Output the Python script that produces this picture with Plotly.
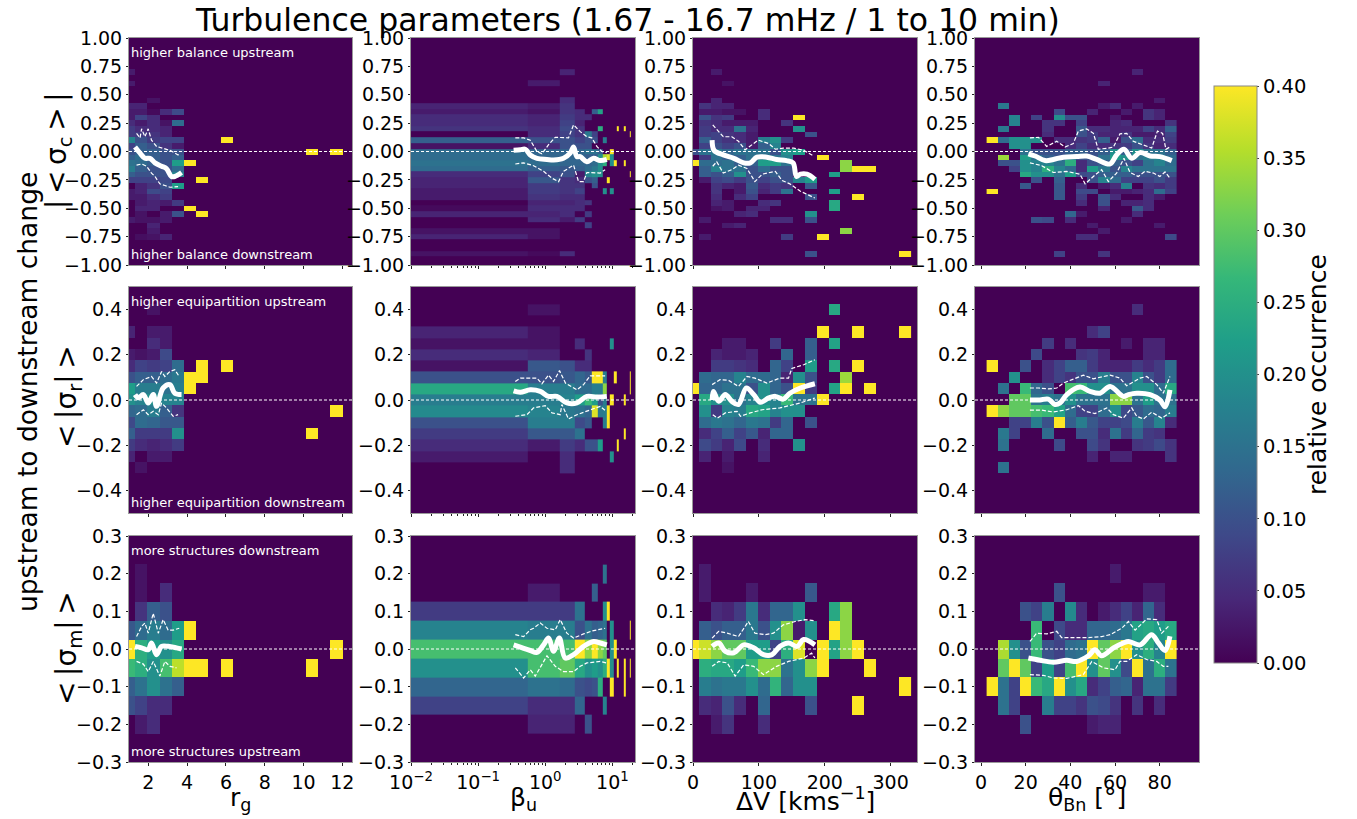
import plotly.graph_objects as go

W, H = 1357, 819
FONT = "DejaVu Sans"
VMAX = 0.40
TITLE = "Turbulence parameters (1.67 - 16.7 mHz / 1 to 10 min)"
YLABEL = "upstream to downstream change"
CBAR_LABEL = "relative occurrence"
ROW_LABELS = ["|\u2009<\u2009σ<sub>c</sub>\u2009>\u2009|", "<\u2009|σ<sub>r</sub>|\u2009>", "<\u2009|σ<sub>m</sub>|\u2009>"]
COL_LABELS = ["r<sub>g</sub>", "β<sub>u</sub>", "ΔV [kms<sup>−1</sup>]", "θ<sub>Bn</sub> [°]"]
NOTES = [("higher balance upstream", "higher balance downstream"),
         ("higher equipartition upstream", "higher equipartition downstream"),
         ("more structures downstream", "more structures upstream")]

# column bin centres of each driver
RG_WIDTH, BETA_WIDTH, DV_WIDTH, TH_WIDTH = 0.63, 1.09, 17.9, 5.0
RG_BINS, BETA_BINS, DV_BINS, TH_BINS = 19, 20, 19, 17
RG_FIRST, BETA_FIRST, DV_FIRST, TH_FIRST = 1.0, 0.0, 0.0, 5.0
Y_STEP = 0.05

# heat maps: {row bin (multiples of 0.05): {column bin: occurrence}}
SC_RG = {14:{0:.03},12:{0:.03},9:{2:.02},8:{0:.04,1:.04},7:{0:.03,1:.03,2:.01,3:.05,4:.09},
 6:{0:.03,1:.08,2:.05},5:{0:.05,1:.03,2:.05,3:.02,4:.14},4:{0:.07,1:.05,2:.05,3:.04},
 3:{0:.07,1:.07,2:.06,3:.04},2:{0:.18,1:.1,2:.07,3:.08,4:.08,8:.4},1:{0:.08,1:.12,2:.1,3:.06,4:.03},
 0:{0:.1,1:.12,2:.12,3:.1,4:.1,15:.4,17:.4},-1:{0:.12,1:.14,2:.12,3:.1,4:.12},
 -2:{0:.15,1:.14,2:.12,3:.1,4:.22,5:.4},-3:{0:.17,1:.12,2:.1,3:.1,4:.14},-4:{0:.12,1:.1,2:.1,3:.1,4:.18},
 -5:{0:.08,1:.08,2:.08,3:.09,6:.4},-6:{1:.04,2:.06,3:.1,4:.22},-7:{0:.03,1:.04,2:.09,3:.08},
 -8:{0:.03,1:.03,2:.05,3:.07},-9:{1:.03,2:.04,3:.03,4:.07},-10:{1:.04,2:.04,5:.4},
 -11:{1:.02,3:.03,4:.1,6:.4},-12:{0:.03,1:.02,2:.02,3:.03},-13:{2:.04},-14:{2:.03},-15:{1:.015,2:.02,3:.04}}
SC_BETA = {14:{2:.04},12:{1:.03},9:{2:.05},8:{0:.04,1:.03,2:.06},7:{0:.03,1:.02,2:.06,3:.05,5:.12,6:.23},
 6:{0:.05,1:.04,2:.07,3:.05,4:.05},5:{0:.05,1:.04,2:.08,3:.04},4:{0:.06,1:.05,2:.09,3:.06,6:.25,11:.4,14:.4},
 3:{1:.05,2:.08,3:.06,4:.16,5:.08,17:.4},2:{0:.12,1:.1,2:.1,3:.08,4:.1,5:.1,7:.17},1:{0:.02,1:.05,2:.1,3:.1,4:.1},
 0:{0:.14,1:.13,2:.13,3:.13,4:.15,5:.15,6:.12,9:.4},-1:{0:.14,1:.13,2:.13,3:.13,4:.12,5:.12,6:.2,7:.35,8:.38,9:.2},
 -2:{0:.15,1:.14,2:.13,3:.13,4:.13,5:.14,6:.2,7:.25,9:.2,10:.4,14:.4},-3:{0:.14,1:.12,2:.11,3:.12,4:.14,5:.16,6:.2},
 -4:{0:.05,1:.08,2:.1,3:.03,4:.18,5:.2,6:.2,17:.4},-5:{0:.04,1:.11,2:.06,3:.05,4:.1,5:.12,8:.4},
 -6:{0:.04,1:.07,2:.06,3:.06,5:.1},-7:{0:.03,1:.07,2:.06,3:.08,7:.2,9:.2},-8:{0:.03,1:.06,2:.05,3:.05},
 -9:{1:.04,2:.04,3:.05,4:.06},-10:{0:.01,1:.05,2:.05,3:.05},-11:{0:.04,1:.04,2:.05,4:.07},-12:{1:.05,2:.03,3:.07},
 -13:{4:.08},-14:{0:.02,1:.02},-15:{0:.04,1:.02},-18:{0:.02,1:.01,2:.05}}
SC_DV = {14:{2:.03},12:{3:.02},9:{2:.04},8:{1:.06,2:.04,3:.04},7:{1:.03,2:.03,3:.02,4:.02,6:.05},
 6:{1:.1,2:.06,3:.07,6:.05,9:.4},5:{1:.06,2:.05,3:.03,4:.03,5:.03,8:.06},4:{1:.07,2:.05,3:.05,4:.15,5:.04,9:.2},
 3:{1:.07,2:.08,3:.06,4:.05,5:.03,10:.1},2:{1:.12,2:.08,3:.06,4:.05,5:.03,6:.17,7:.2,8:.07},
 1:{1:.08,2:.1,3:.08,4:.1,5:.03,6:.12,7:.18},0:{0:.1,1:.15,2:.16,3:.13,4:.15,5:.15,6:.15,7:.1,8:.2,9:.22},
 -1:{1:.07,2:.15,3:.12,4:.12,5:.15,6:.18,7:.15,8:.18,11:.4},-2:{0:.4,1:.14,2:.14,3:.15,4:.12,5:.12,6:.22,7:.22,8:.15,13:.33},
 -3:{1:.12,2:.18,3:.15,4:.15,5:.1,6:.14,7:.1,8:.1,13:.33,14:.4,15:.4},-4:{1:.12,2:.1,3:.12,4:.2,5:.1,6:.1,7:.12,8:.1,12:.22},
 -5:{1:.03,2:.08,3:.09,4:.07,5:.1,6:.08,7:.1,8:.1,9:.18,10:.22},-6:{2:.06,3:.04,4:.03,5:.11,6:.05,7:.07,8:.06,10:.11},
 -7:{2:.06,4:.03,5:.1,6:.04,7:.07,8:.15,12:.22},-8:{2:.05,4:.05,5:.08,10:.1,14:.4},-9:{2:.04,3:.03,6:.05,7:.06,12:.24},
 -10:{2:.02,3:.03,5:.04,6:.04,12:.24},-11:{4:.04,5:.05,10:.2},-12:{1:.03,7:.05,8:.05,10:.1},-13:{3:.03,4:.04},
 -14:{13:.33},-15:{1:.03,8:.07,11:.4},-18:{10:.1,18:.4}}
SC_TH = {14:{13:.04},12:{10:.04},9:{15:.03},8:{1:.16,10:.03,11:.05,13:.03},7:{6:.09,9:.04,12:.03,14:.06,15:.04},
 6:{2:.18,4:.08,6:.2,7:.1,8:.1,11:.03,14:.06,15:.04},5:{2:.18,5:.06,6:.06,8:.08,11:.04,12:.05,16:.06},
 4:{1:.16,5:.06,8:.11,9:.05,10:.05,11:.04,12:.04,13:.04,14:.08,15:.05,16:.12},
 3:{5:.05,8:.1,9:.07,10:.04,11:.04,12:.06,13:.03,14:.03,15:.04,16:.08},
 2:{0:.4,1:.14,2:.2,3:.2,4:.2,6:.05,7:.05,8:.06,9:.07,10:.12,11:.03,12:.1,13:.14,14:.05,15:.05,16:.07},
 1:{2:.2,3:.2,7:.05,8:.08,9:.05,10:.05,11:.06,12:.07,13:.1,14:.06,15:.04,16:.05},
 0:{3:.15,4:.1,5:.1,6:.1,7:.12,8:.12,9:.1,10:.12,11:.2,12:.12,13:.2,14:.15,15:.15,16:.12},
 -1:{1:.34,3:.22,4:.15,5:.12,6:.1,7:.18,8:.1,9:.1,10:.15,11:.22,12:.2,13:.15,14:.17,15:.18,16:.14},
 -2:{1:.1,2:.1,3:.2,4:.18,5:.18,6:.15,7:.25,8:.05,9:.1,10:.12,11:.12,12:.1,13:.08,14:.15,15:.18,16:.14},
 -3:{2:.08,3:.2,4:.18,5:.25,6:.18,7:.14,8:.05,9:.22,10:.16,11:.1,12:.18,13:.15,14:.15,15:.15,16:.15},
 -4:{3:.24,4:.2,5:.2,6:.15,7:.22,8:.09,9:.1,10:.12,11:.12,12:.12,13:.1,14:.1,15:.1,16:.1},
 -5:{4:.1,6:.12,9:.1,10:.18,11:.14,12:.08,13:.08,14:.08,15:.1,16:.07},
 -6:{3:.11,6:.11,8:.05,10:.03,11:.05,12:.18,14:.06,15:.05,16:.07},
 -7:{0:.4,6:.11,8:.09,9:.09,11:.03,12:.03,13:.04,14:.05,15:.14,16:.08},
 -8:{6:.11,8:.07,10:.1,11:.05,14:.05,15:.03},-9:{8:.05,10:.1,12:.04,13:.04,14:.05},-10:{10:.04,13:.11,14:.05},
 -11:{7:.13,8:.03,13:.05},-12:{4:.1,5:.09,7:.05,12:.03},-13:{9:.03,15:.03},-14:{10:.03},-15:{8:.05,9:.05,16:.09},
 -18:{6:.08,10:.06}}
SR_RG = {8:{2:.02},6:{0:.04,2:.03,3:.03},5:{2:.05,3:.03},4:{0:.03,1:.02,2:.03,3:.09},
 3:{0:.05,1:.08,2:.07,3:.08,4:.14,6:.4,8:.4},2:{0:.1,1:.12,2:.12,3:.14,4:.16,5:.4,6:.4},
 1:{0:.22,1:.17,2:.17,3:.15,4:.17,5:.4},0:{0:.2,1:.18,2:.2,3:.18,4:.18},-1:{0:.13,1:.14,2:.17,3:.12,4:.06,17:.4},
 -2:{0:.09,1:.14,2:.13,3:.11,4:.11},-3:{0:.12,1:.07,2:.07,3:.07,4:.2,15:.4},-4:{0:.07,1:.05,2:.04,3:.05,4:.07},
 -5:{0:.04,2:.03,3:.03},-6:{1:.02}}
SR_BETA = {8:{1:.02},6:{0:.04,1:.02},5:{0:.02,1:.02,3:.05,9:.2},4:{0:.05,1:.04,4:.06},3:{0:.02,1:.11,2:.1,3:.05,4:.05},
 2:{0:.1,1:.1,2:.11,3:.13,4:.11,5:.4,6:.4,7:.17,10:.4,17:.4},1:{0:.24,1:.17,2:.17,3:.14,4:.14,5:.17,6:.17,7:.33,17:.4},
 0:{0:.17,1:.17,2:.18,3:.22,4:.27,5:.22,6:.1,7:.17,9:.4,14:.4},-1:{0:.19,1:.18,2:.16,3:.15,4:.13,5:.38,6:.16,7:.17,8:.4},
 -2:{0:.1,1:.17,2:.17,3:.09,4:.11,7:.17,8:.4},-3:{0:.07,1:.11,2:.11,3:.15,14:.4},-4:{0:.05,1:.03,2:.07,3:.05,4:.1,5:.1,6:.22,11:.4},
 -5:{0:.03,2:.05,9:.2},-6:{2:.05}}
SR_DV = {8:{12:.24},6:{11:.4,14:.4,18:.4},5:{3:.03,4:.03,7:.07,10:.12,12:.23},4:{2:.04,3:.03,4:.03,5:.04,8:.13,10:.12},
 3:{2:.07,3:.07,4:.06,5:.05,7:.13,8:.08,10:.22,12:.24,14:.4},2:{1:.14,2:.13,3:.13,4:.18,5:.14,6:.14,7:.13,8:.04,9:.2,10:.1,13:.34},
 1:{0:.4,1:.13,2:.13,3:.15,4:.15,5:.1,6:.2,7:.13,8:.1,9:.4,10:.07,12:.23,13:.4,15:.4},
 0:{1:.24,2:.2,3:.2,4:.15,5:.18,6:.2,7:.18,8:.27,9:.15,10:.15,11:.4},-1:{1:.2,2:.07,3:.18,4:.17,5:.24,6:.23,7:.18,8:.2,9:.2},
 -2:{1:.14,2:.16,3:.15,4:.13,5:.16,6:.15,7:.07,8:.13,10:.1},-3:{1:.05,2:.08,3:.12,4:.08,5:.11,6:.04,7:.13,8:.13},
 -4:{1:.09,2:.07,3:.04,4:.09,6:.05,9:.2},-5:{1:.04,3:.03,6:.04},-6:{3:.02}}
SR_TH = {8:{13:.05},6:{9:.05,10:.08},5:{5:.07,7:.05,12:.03,14:.04,15:.04},4:{4:.09,8:.06,9:.07,10:.04,14:.04,15:.04},
 3:{0:.4,3:.1,5:.05,6:.08,7:.12,8:.12,9:.07,10:.04,11:.04,12:.04,13:.07,14:.05,15:.07,16:.14},
 2:{2:.2,5:.05,6:.08,7:.06,8:.1,9:.1,10:.17,11:.1,12:.1,13:.18,14:.1,15:.07,16:.14},
 1:{1:.15,3:.27,4:.13,5:.1,7:.28,8:.27,9:.2,10:.2,11:.15,12:.15,13:.2,14:.2,15:.14,16:.24},
 0:{2:.3,3:.3,4:.15,5:.17,6:.15,7:.2,8:.15,9:.15,10:.15,11:.33,12:.33,13:.15,14:.22,15:.15,16:.15},
 -1:{0:.4,1:.33,2:.3,3:.3,4:.28,5:.27,6:.23,7:.14,8:.08,9:.08,10:.14,11:.2,12:.09,13:.11,14:.14,15:.13,16:.17},
 -2:{2:.08,3:.08,4:.17,5:.1,6:.4,7:.12,8:.17,9:.11,10:.08,11:.08,12:.09,13:.17,14:.11,15:.18,16:.05},
 -3:{1:.16,2:.08,5:.14,8:.1,9:.1,10:.05,11:.15,12:.07,13:.13,14:.07,15:.06},
 -4:{1:.15,6:.09,9:.09,10:.06,13:.06,14:.07,15:.09,16:.06},-5:{9:.04,11:.04,12:.04,16:.06},-6:{1:.15}}
SM_RG = {4:{1:.02},3:{1:.02,3:.05},2:{1:.06,2:.12,3:.1},1:{0:.11,1:.14,2:.17,3:.14,4:.22,5:.4},
 0:{0:.4,1:.25,2:.22,3:.2,4:.24,17:.4},-1:{0:.27,1:.25,2:.2,3:.28,4:.36,5:.4,6:.4,8:.4,15:.4},
 -2:{0:.12,1:.15,2:.2,3:.15,4:.12},-3:{0:.1,1:.08,2:.05,3:.05},-4:{1:.03,2:.05}}
SM_BETA = {4:{7:.15},3:{1:.03,5:.12},2:{0:.07,1:.07,2:.07,3:.15,7:.2,8:.4},
 1:{0:.18,1:.17,2:.17,3:.1,4:.15,5:.12,6:.13,7:.15,9:.2,17:.4},
 0:{0:.28,1:.28,2:.28,3:.4,4:.33,5:.4,6:.33,7:.3,9:.2,10:.4},
 -1:{0:.2,1:.28,2:.3,3:.24,4:.2,5:.22,6:.2,7:.25,8:.4,9:.2,11:.4,14:.4,17:.4},
 -2:{0:.13,1:.15,2:.14,3:.1,4:.09,5:.1,6:.25,9:.4,14:.4},-3:{0:.08,1:.05,2:.05,3:.13,7:.18},-4:{1:.04,2:.04,4:.1}}
SM_DV = {4:{1:.03},3:{1:.03,5:.03,10:.11},2:{2:.05,3:.04,4:.07,5:.16,6:.05,7:.13,8:.13,9:.2,12:.24,13:.33},
 1:{1:.12,2:.1,3:.12,4:.12,5:.16,6:.1,7:.2,8:.33,9:.03,10:.2,12:.4,13:.33},
 0:{0:.4,1:.37,2:.33,3:.3,4:.3,5:.22,6:.22,7:.08,8:.25,9:.38,11:.4,12:.23,13:.33,14:.4},
 -1:{1:.25,2:.24,3:.24,4:.22,5:.27,6:.33,7:.33,8:.15,9:.2,10:.33,11:.4,15:.4},
 -2:{1:.17,2:.15,3:.16,4:.16,5:.2,6:.14,7:.26,8:.13,9:.2,10:.2,18:.4},
 -3:{1:.05,2:.04,3:.1,4:.05,6:.13,10:.1,14:.4},-4:{2:.03,3:.06,6:.05}}
SM_TH = {4:{11:.03},3:{6:.1,14:.03,15:.03},2:{3:.1,4:.08,5:.17,7:.19,8:.05,10:.03,11:.05,12:.08,13:.04,14:.13,15:.05},
 1:{4:.27,6:.09,7:.05,8:.05,9:.13,10:.13,11:.14,12:.16,13:.23,14:.24,15:.22,16:.24},
 0:{1:.35,2:.2,3:.1,4:.27,5:.1,6:.08,7:.14,8:.15,9:.4,10:.3,11:.33,12:.4,13:.2,14:.25,15:.18,16:.4},
 -1:{1:.3,2:.4,3:.3,4:.08,5:.22,6:.08,7:.28,8:.4,9:.2,10:.3,11:.2,12:.09,13:.4,14:.15,15:.25,16:.15},
 -2:{0:.4,1:.15,2:.08,3:.4,4:.27,5:.24,6:.4,7:.2,8:.24,9:.05,10:.08,11:.12,12:.13,13:.04,14:.15,15:.15,16:.07},
 -3:{1:.15,2:.08,5:.17,6:.08,7:.08,8:.06,9:.1,10:.09,11:.06,13:.06,15:.05},-4:{3:.1,9:.03,10:.04,11:.04}}

# moving average (thick) and quartile (dashed) curves: x values, y values
SC_RG_MEAN = ([1.31,1.57,1.82,2.08,2.34,2.68,2.93,3.19,3.36,3.71],[.04,-.015,-.06,-.06,-.1,-.13,-.15,-.22,-.22,-.185])
SC_RG_UP = ([1.39,1.57,1.65,1.82,1.99,2.16,2.42,2.76,3.11,3.53,3.62],[.16,.12,.2,.13,.2,.1,.045,.03,.01,-.03,-.015])
SC_RG_LO = ([1.39,1.65,1.91,2.16,2.34,2.59,2.85,3.11,3.53],[-.12,-.11,-.13,-.19,-.22,-.285,-.3,-.315,-.31])
SC_BETA_MEAN = ([.338,.425,.504,.598,.752,1.06,1.33,1.87,2.35,2.64,2.96,3.32,4.17,5.24,6.58,8.27],[.01,.015,.02,-.03,-.06,-.07,-.075,-.06,-.015,.04,-.045,-.045,-.09,-.06,-.08,-.07])
SC_BETA_UP = ([.358,.476,.598,.752,.892,1.12,1.41,1.87,2.22,2.64,3.32,4.17,4.94,5.87,6.96,8.27],[.12,.12,.1,0,-.02,.06,.125,.12,.12,.235,.175,.13,.12,.045,0,-.01])
SC_BETA_LO = ([.358,.476,.67,.944,1.26,1.58,1.87,2.64,3.13,3.72,4.17,5.24,6.58,7.8],[-.11,-.1,-.125,-.175,-.235,-.265,-.175,-.12,-.265,-.265,-.185,-.19,-.19,-.16])
SC_DV_MEAN = ([29,32,46,62,77,87,97,112,127,142,152,157,163,173,185],[.1,.01,-.03,-.06,-.1,-.1,-.05,-.05,-.07,-.08,-.1,-.22,-.2,-.2,-.245])
SC_DV_UP = ([30,39,46,59,69,79,89,99,115,125,137,153,168,183],[.235,.175,.13,.13,.09,.015,.06,.1,.07,.02,.03,.03,.01,-.04])
SC_DV_LO = ([30,36,46,59,69,82,94,105,125,135,147,163,185],[-.13,-.09,-.19,-.16,-.12,-.15,-.265,-.2,-.175,-.255,-.285,-.35,-.41])
SC_TH_MEAN = ([21.2,24.2,28.7,32.4,36.9,42.8,47.3,51.8,57.8,60.7,64,67.5,71.2,75.7,80.1,85.4],[-.02,-.04,-.08,-.07,-.05,-.045,-.04,-.07,-.11,-.03,.02,-.06,-.01,-.04,-.045,-.08])
SC_TH_UP = ([21.9,25.7,29.4,33.9,37.6,41.3,43.6,47.3,50.3,52.5,57,59.3,62.2,65.2,68.2,72.7,76.4,79,81.3,82.8,84.6],[.12,.125,.045,.09,.04,.07,.18,.2,.16,.02,.03,.04,.155,.16,.09,.06,.03,.18,.16,.02,.04])
SC_TH_LO = ([21.9,27.2,32.4,38.4,44.3,46.6,50.3,54,57,60.7,64,66.7,70.4,73.4,77.2,80.1,82.4,84.6],[-.1,-.125,-.185,-.175,-.2,-.285,-.22,-.16,-.265,-.19,-.06,-.185,-.22,-.175,-.19,-.22,-.18,-.235])
SR_RG_MEAN = ([1.31,1.48,1.74,1.99,2.25,2.42,2.76,3.11,3.36,3.71],[.024,.01,.024,-.013,.024,-.028,.053,.068,.03,.024])
SR_RG_UP = ([1.39,1.74,2.16,2.42,2.68,2.85,3.11,3.36,3.59],[.06,.09,.104,.075,.126,.104,.126,.134,.104])
SR_RG_LO = ([1.39,1.74,1.99,2.25,2.51,2.68,2.93,3.28,3.53],[-.065,-.043,-.065,-.05,-.065,-.013,-.035,-.072,-.065])
SR_BETA_MEAN = ([.338,.425,.598,.843,1.12,1.49,2.1,2.96,4.17,5.87,8.27],[.04,.034,.045,.038,.016,.016,-.013,-.013,.016,.013,.016])
SR_BETA_UP = ([.358,.425,.752,.892,1.12,1.33,1.63,2.0,2.96,3.72,4.67,7.8],[.082,.097,.097,.072,.11,.082,.13,.075,.045,.068,.107,.107])
SR_BETA_LO = ([.358,.534,.67,1.0,1.26,1.67,1.77,2.22,2.96,4.17,6.58,8.08],[-.072,-.065,-.035,-.025,-.057,-.065,-.02,-.084,-.065,-.05,-.028,-.05])
SR_DV_MEAN = ([29,31,39,49,59,69,81,92,102,115,125,137,147,163,185],[0,.038,-.006,.024,-.006,-.02,.053,.024,-.01,.009,.016,.004,.03,.053,.072])
SR_DV_UP = ([29,41,54,69,82,94,112,132,145,150,168,185],[.068,.09,.087,.06,.104,.097,.075,.097,.097,.14,.156,.178])
SR_DV_LO = ([30,37,49,67,72,87,105,132,163,185],[-.065,-.08,-.057,-.05,-.072,-.057,-.043,-.035,-.013,.009])
SR_TH_MEAN = ([21.9,26.4,30.1,33.1,35.4,38.4,44.3,48.8,53.3,57.8,63.7,66,69.7,75.7,80.1,82.4,84.6],[0,0,.004,-.02,-.013,.024,.057,.038,.03,.06,.016,.024,.03,.024,0,-.03,.045])
SR_TH_UP = ([21.9,25.7,30.1,33.9,36.9,42.8,45.8,50.3,57.8,62.2,65.2,71.2,74.2,78.7,81.6,84.6],[.053,.053,.049,.053,.075,.097,.11,.094,.11,.097,.063,.097,.104,.068,.03,.104])
SR_TH_LO = ([21.9,27.2,32.4,38.4,43.6,46.6,51,56.3,59.3,63.7,67.5,69.7,72.7,76.4,80.9,84.6],[-.045,-.045,-.053,-.043,-.025,-.05,-.06,-.035,-.065,-.08,-.035,-.072,-.084,-.054,-.08,-.057])
SM_RG_MEAN = ([1.31,1.65,1.99,2.16,2.42,2.68,3.02,3.45,3.71],[.007,.003,-.002,.016,-.015,.007,.007,.003,0])
SM_RG_UP = ([1.39,1.65,1.82,1.99,2.25,2.51,2.76,3.02,3.28,3.59],[.033,.06,.069,.042,.095,.042,.078,.05,.05,.055])
SM_RG_LO = ([1.39,1.74,1.99,2.25,2.59,2.85,3.11,3.45],[-.033,-.04,-.06,-.033,-.072,-.033,-.046,-.05])
SM_BETA_MEAN = ([.338,.425,.598,.752,.944,1.12,1.33,1.62,1.98,2.64,3.72,5.24,6.58,8.27],[.011,.005,-.004,-.009,.011,.029,-.006,.029,-.024,-.015,.007,.02,.016,.011])
SM_BETA_UP = ([.358,.476,.598,.67,.843,1.06,1.41,1.67,2.1,2.64,3.72,5.0,7.8],[.038,.033,.051,.055,.069,.055,.051,.078,.042,.029,.04,.048,.055])
SM_BETA_LO = ([.358,.476,.598,.71,1.06,1.41,1.87,2.64,3.32,4.17,6.58,8.08],[-.05,-.077,-.055,-.072,-.018,-.046,-.06,-.06,-.046,-.037,-.033,-.037])
SM_DV_MEAN = ([29,39,49,62,77,92,107,120,132,145,158,168,185],[.007,.016,-.006,-.01,.011,.003,-.015,-.015,.007,.016,.007,.025,.011])
SM_DV_UP = ([29,39,52,69,84,94,110,122,137,155,170,185],[.029,.047,.042,.033,.073,.042,.038,.042,.064,.073,.078,.075])
SM_DV_LO = ([29,39,52,64,77,92,107,127,145,168,180,185],[-.046,-.033,-.037,-.072,-.042,-.046,-.068,-.046,-.033,-.024,-.011,-.024])
SM_TH_MEAN = ([21.2,26.4,32.4,38.4,42.8,48.1,51,54,59.3,63.7,66,71.2,76.4,79.4,82.4,84.6],[-.024,-.03,-.035,-.03,-.033,-.018,-.002,-.018,.003,.016,.02,.011,.038,.016,-.004,.034])
SM_TH_UP = ([21.9,24.9,29.4,33.9,36.1,42.1,47.3,54,57.8,63,66,69,74.2,78.7,80.9,83.9],[.02,.042,.04,.047,.03,.03,.03,.033,.038,.055,.073,.05,.08,.078,.042,.06])
SM_TH_LO = ([21.9,27.9,32.4,38.4,45.8,49.6,54.8,60,62.2,65.2,69.7,74.2,78.7,81.6,83.9],[-.068,-.07,-.077,-.078,-.068,-.033,-.05,-.055,-.033,-.033,-.015,-.028,-.033,-.046,-.046])

HEAT = [[SC_RG, SC_BETA, SC_DV, SC_TH], [SR_RG, SR_BETA, SR_DV, SR_TH], [SM_RG, SM_BETA, SM_DV, SM_TH]]
CURVES = [[(SC_RG_MEAN, SC_RG_UP, SC_RG_LO), (SC_BETA_MEAN, SC_BETA_UP, SC_BETA_LO), (SC_DV_MEAN, SC_DV_UP, SC_DV_LO), (SC_TH_MEAN, SC_TH_UP, SC_TH_LO)],
          [(SR_RG_MEAN, SR_RG_UP, SR_RG_LO), (SR_BETA_MEAN, SR_BETA_UP, SR_BETA_LO), (SR_DV_MEAN, SR_DV_UP, SR_DV_LO), (SR_TH_MEAN, SR_TH_UP, SR_TH_LO)],
          [(SM_RG_MEAN, SM_RG_UP, SM_RG_LO), (SM_BETA_MEAN, SM_BETA_UP, SM_BETA_LO), (SM_DV_MEAN, SM_DV_UP, SM_DV_LO), (SM_TH_MEAN, SM_TH_UP, SM_TH_LO)]]
BINS = [(RG_FIRST, RG_WIDTH, RG_BINS), (BETA_FIRST, BETA_WIDTH, BETA_BINS), (DV_FIRST, DV_WIDTH, DV_BINS), (TH_FIRST, TH_WIDTH, TH_BINS)]

COL_PX = [(129, 352), (411, 635), (693, 917), (975, 1199)]
ROW_PX = [(38, 265), (287, 513), (536, 762)]
X_RANGE = [[1, 12.5], [-2, 1.337], [0, 340], [-2.7, 97.6]]
Y_RANGE = [[-1, 1], [-.5, .5], [-.3, .3]]
Y_TICKS = [([-1,-.75,-.5,-.25,0,.25,.5,.75,1], ".2f"), ([-.4,-.2,0,.2,.4], ".1f"), ([-.3,-.2,-.1,0,.1,.2,.3], ".1f")]
X_TICKS = [[2,4,6,8,10,12], [.01,.1,1,10], [0,100,200,300], [0,20,40,60,80]]
BETA_TICKTEXT = ["10<sup>−2</sup>", "10<sup>−1</sup>", "10<sup>0</sup>", "10<sup>1</sup>"]
BETA_MINOR = [m * 10**e for e in (-2, -1, 0, 1) for m in range(2, 10) if m * 10**e < 21.7]

fig = go.Figure()
n = 0
for r in range(3):
    for c in range(4):
        n += 1
        xname, yname = ("x", "y") if n == 1 else (f"x{n}", f"y{n}")
        first, width, count = BINS[c]
        edges = [first - width / 2 + width * i for i in range(count + 1)]
        if c == 1:
            edges[0] = 0.005
        keys = list(range(-int(round((Y_RANGE[r][1]) / Y_STEP)), int(round(Y_RANGE[r][1] / Y_STEP)) + 1))
        y_edges = [(k - .5) * Y_STEP for k in keys] + [(keys[-1] + .5) * Y_STEP]
        z = [[HEAT[r][c].get(k, {}).get(i, 0) for i in range(count)] for k in keys]
        fig.add_trace(go.Heatmap(x=edges, y=y_edges, z=z, xaxis=xname, yaxis=yname, coloraxis="coloraxis", hoverinfo="skip"))
        mean, up, lo = CURVES[r][c]
        for cur, w, dash, shape in ((up, 1.2, "4px,2px", "linear"), (lo, 1.2, "4px,2px", "linear"), (mean, 5, "solid", "spline")):
            fig.add_trace(go.Scatter(x=cur[0], y=cur[1], mode="lines", xaxis=xname, yaxis=yname, showlegend=False,
                                     hoverinfo="skip", line=dict(color="white", width=w, dash=dash, shape=shape)))
        x0, x1 = COL_PX[c]
        y0, y1 = ROW_PX[r]
        xax = dict(domain=[x0 / W, x1 / W], range=X_RANGE[c], anchor=yname, showgrid=False, zeroline=False,
                   showline=True, mirror=True, linecolor="#9a9a9a", linewidth=1, ticks="outside", ticklen=3,
                   tickcolor="#222", tickvals=X_TICKS[c], showticklabels=r == 2, tickfont=dict(size=19, family=FONT, color="black"))
        if c == 1:
            xax.update(type="log", ticktext=BETA_TICKTEXT,
                       minor=dict(tickvals=BETA_MINOR, ticks="outside", ticklen=2, tickcolor="#222"))
        yax = dict(domain=[1 - y1 / H, 1 - y0 / H], range=Y_RANGE[r], anchor=xname, showgrid=False, zeroline=False,
                   showline=True, mirror=True, linecolor="#9a9a9a", linewidth=1, ticks="outside", ticklen=2,
                   tickcolor="#222", tickvals=Y_TICKS[r][0], tickformat=Y_TICKS[r][1], tickfont=dict(size=19, family=FONT, color="black"))
        fig.layout[f"xaxis{n}"] = xax
        fig.layout[f"yaxis{n}"] = yax
        fig.add_shape(type="line", xref=f"{xname} domain", yref=yname, x0=0, x1=1, y0=0, y1=0,
                      line=dict(color="white", width=1, dash="3px,2px"))

ROW_LABEL_PX = [(58, 151), (68, 397), (68, 648)]
annos = [dict(text=TITLE, x=627 / W, y=1 - 20 / H, size=31.5),
         dict(text=YLABEL, x=27 / W, y=1 - 392 / H, size=26.5, angle=-90),
         dict(text=CBAR_LABEL, x=1318 / W, y=1 - 375 / H, size=25, angle=-90)]
for (px, py), lab in zip(ROW_LABEL_PX, ROW_LABELS):
    annos.append(dict(text=lab, x=px / W, y=1 - py / H, size=28, angle=-90))
for c, lab in enumerate(COL_LABELS):
    annos.append(dict(text=lab, x=sum(COL_PX[c]) / 2 / W, y=1 - 799 / H, size=25))
for a in annos:
    fig.add_annotation(text=a["text"], x=a["x"], y=a["y"], xref="paper", yref="paper", showarrow=False,
                       xanchor="center", yanchor="middle", textangle=a.get("angle", 0),
                       font=dict(size=a["size"], family=FONT, color="black"))
NOTE_Y = [(52, 254), (301, 502), (550, 751)]
for r, (top, bottom) in enumerate(NOTES):
    for txt, py in zip((top, bottom), NOTE_Y[r]):
        fig.add_annotation(text=txt, x=129 / W, y=1 - py / H, xref="paper", yref="paper", showarrow=False,
                           xanchor="left", yanchor="middle", font=dict(size=13, family=FONT, color="white"))

fig.update_layout(
    width=W, height=H, autosize=False, margin=dict(l=0, r=0, t=0, b=0, autoexpand=False),
    paper_bgcolor="white", plot_bgcolor="#440154", showlegend=False,
    coloraxis=dict(cmin=0, cmax=VMAX, colorscale="Viridis", colorbar=dict(
        x=1214 / W, xanchor="left", y=1 - 86 / H, yanchor="top", lenmode="pixels", len=577,
        thicknessmode="pixels", thickness=43, xpad=0, ypad=0, outlinewidth=1, outlinecolor="#888",
        tickvals=[0, .05, .1, .15, .2, .25, .3, .35, .4], tickformat=".2f", ticks="outside", ticklen=2,
        tickfont=dict(size=19.5, family=FONT, color="black"))))

fig.write_html("out.html", config={"displayModeBar": False},
               post_script="document.body.style.margin='0';document.body.style.overflow='hidden';")
